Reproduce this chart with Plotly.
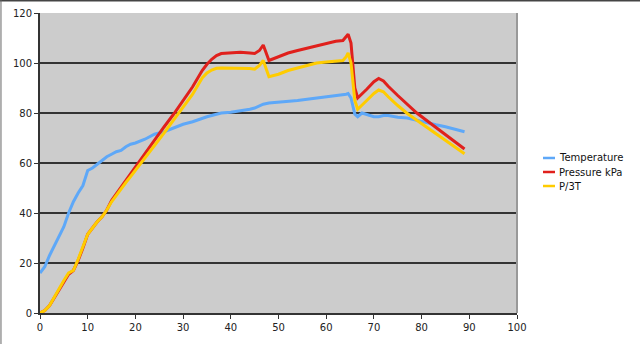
import plotly.graph_objects as go

x_vals = [0, 1, 2, 3, 4, 5, 6, 7, 8, 9, 10, 11, 12, 13, 14, 15, 16, 17, 18, 19, 20,
          22, 24, 26, 28, 30, 32, 34, 35, 36, 37, 38, 40, 42, 44, 45, 46, 46.8, 48,
          50, 52, 54, 56, 58, 60, 62, 63.5, 64.2, 64.6, 65.2, 66, 66.6, 67.5, 68.5,
          70, 71, 72, 73, 75, 77, 79, 81, 83, 85, 87, 89]

temperature = [16, 18.5, 23, 27, 31, 34.5, 40, 44.5, 48, 51, 57, 58, 59.5, 61, 62.5, 63.5,
               64.5, 65, 66.5, 67.5, 68, 69.5, 71.5, 72.5, 74, 75.5, 76.5, 78, 78.5, 79,
               79.5, 80, 80.3, 80.8, 81.5, 82, 83, 83.5, 84, 84.3, 84.5, 85, 85.5, 86,
               86.3, 86.8, 87.2, 87.5, 87.8, 86, 79.5, 78.5, 80, 79.5, 78.5, 78.5, 79,
               79, 78.3, 78, 77, 76, 75.3, 74.5, 73.5, 72.5]

pressure = [0, 1, 3, 6, 9, 12.5, 15.5, 17, 21, 26, 31.5, 34, 36.5, 38.5, 41.2, 45, 47.7,
            50.5, 53, 55.7, 58.4, 63.8, 69.1, 74.4, 79.5, 85, 90.5, 97, 99.5, 101.5,
            103, 103.8, 104, 104.3, 104, 103.8, 105, 107.2, 101, 102.5, 104, 105, 106,
            107, 108, 108.7, 109, 110.5, 111.5, 108, 90, 86, 87.5, 89.5, 92.5, 93.8,
            92.8, 90.7, 87, 83.4, 80, 77.1, 74.2, 71.4, 68.5, 65.6]

p_over_3t = [0, 1, 3, 6.5, 9.5, 13, 16, 17, 21.5, 26.5, 31.5, 34, 36.5, 38.5, 41.2, 44.5,
             47.2, 49.8, 52.2, 54.6, 57, 62, 67, 72, 77.3, 82.5, 87.5, 94, 96, 97.2,
             97.9, 98, 98, 98, 97.8, 97.5, 99, 101, 94.5, 95.5, 97, 98, 99, 100, 100.4,
             100.8, 101, 102.5, 104, 100, 85, 81.5, 83, 85, 87.8, 89.2, 88.5, 86.5, 83,
             79.8, 77.1, 74.4, 71.7, 69.1, 66.4, 63.7]

series_names = ["Temperature", "Pressure kPa", "P/3T"]
series_colors = ["#5ea8f8", "#e0201c", "#ffcc00"]
x_ticks = [0, 10, 20, 30, 40, 50, 60, 70, 80, 90, 100]
y_ticks = [0, 20, 40, 60, 80, 100, 120]

fig = go.Figure()
for name, ys, col in zip(series_names, [temperature, pressure, p_over_3t], series_colors):
    fig.add_trace(go.Scatter(x=x_vals, y=ys, mode="lines", name=name,
                             line=dict(color=col, width=3), showlegend=False))

font = dict(family="DejaVu Sans", size=10, color="#222222")

fig.update_layout(
    width=640, height=344,
    margin=dict(l=40, r=123, t=13, b=31, autoexpand=False),
    paper_bgcolor="white",
    plot_bgcolor="#cccccc",
    font=font,
    xaxis=dict(range=[0, 100], tickvals=x_ticks, showgrid=False, zeroline=False,
               showline=True, linecolor="#333333", linewidth=2,
               ticks="outside", ticklen=4, tickcolor="#333333", tickwidth=1,
               mirror=False, fixedrange=True, automargin=False),
    yaxis=dict(range=[0, 120], tickvals=y_ticks, showgrid=True, gridcolor="#333333",
               gridwidth=2, zeroline=False, showline=True, linecolor="#333333",
               linewidth=2, ticks="outside", ticklen=4, tickcolor="#333333",
               tickwidth=1, fixedrange=True, automargin=False),
)

shapes = [
    # right border of plot area
    dict(type="line", xref="paper", yref="paper", x0=1, x1=1, y0=0, y1=1,
         line=dict(color="#999999", width=2)),
    # outer frame top / left
    dict(type="line", xref="paper", yref="paper", x0=-0.09, x1=1.26, y0=1.0417, y1=1.0417,
         line=dict(color="#444444", width=2)),
    dict(type="line", xref="paper", yref="paper", x0=-0.0818, x1=-0.0818, y0=-0.11, y1=1.05,
         line=dict(color="#666666", width=1)),
]
annotations = []
legend_y = [0.5167, 0.47, 0.4233]
for name, col, ly in zip(series_names, series_colors, legend_y):
    shapes.append(dict(type="line", xref="paper", yref="paper", x0=1.0545, x1=1.0797,
                       y0=ly, y1=ly, line=dict(color=col, width=2.5)))
    annotations.append(dict(xref="paper", yref="paper", x=1.083, y=ly, text=name,
                            showarrow=False, xanchor="left", yanchor="middle",
                            font=dict(family="DejaVu Sans", size=10, color="#111111")))
fig.update_layout(shapes=shapes, annotations=annotations)

fig.write_html("out.html")
